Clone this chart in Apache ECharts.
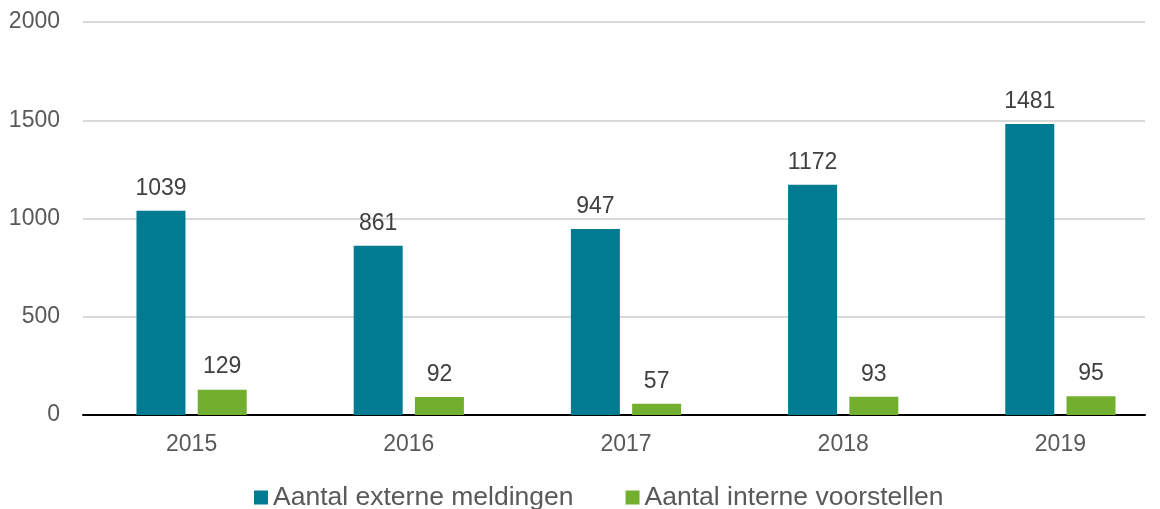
<!DOCTYPE html>
<html>
<head>
<meta charset="utf-8">
<script src="https://cdn.jsdelivr.net/npm/echarts@6/dist/echarts.min.js"></script>
<style>
  html, body { margin: 0; padding: 0; background: #fff; }
  #chart { width: 1160px; height: 509px; }
</style>
</head>
<body>
<div id="chart"></div>
<script>
const years = ['2015', '2016', '2017', '2018', '2019'];
const externeMeldingen = [1039, 861, 947, 1172, 1481];
const interneVoorstellen = [129, 92, 57, 93, 95];
const seriesNames = ['Aantal externe meldingen', 'Aantal interne voorstellen'];

const textColor = '#595959';
const font = 'Arial, "Liberation Sans", sans-serif';

const chart = echarts.init(document.getElementById('chart'));

const labelStyle = {
  show: true,
  position: 'top',
  distance: 11,
  color: '#404040',
  fontSize: 23,
  fontFamily: font
};

chart.setOption({
  animation: false,
  backgroundColor: '#fff',
  // grid 0: bars (category spacing as in the original), grid 1: gridlines + axis line
  grid: [
    { left: 83, width: 1086, top: 22, bottom: 94, outerBoundsMode: 'none' },
    { left: 83, right: 15, top: 22, bottom: 94, outerBoundsMode: 'none' }
  ],
  legend: {
    bottom: -7,
    left: 249,
    itemWidth: 14,
    itemHeight: 14,
    itemGap: 52,
    icon: 'rect',
    textStyle: { color: textColor, fontSize: 26.5, fontFamily: font },
    data: seriesNames
  },
  xAxis: [
    {
      type: 'category',
      gridIndex: 0,
      data: years,
      axisTick: { show: false },
      axisLine: { show: false },
      axisLabel: { color: textColor, fontSize: 23, fontFamily: font, margin: 18 }
    },
    {
      type: 'value',
      gridIndex: 1,
      min: 0,
      max: 1,
      axisTick: { show: false },
      axisLabel: { show: false },
      splitLine: { show: false },
      axisLine: { onZero: false, lineStyle: { color: '#000', width: 2 } }
    }
  ],
  yAxis: [
    {
      type: 'value',
      gridIndex: 0,
      min: 0,
      max: 2000,
      interval: 500,
      axisLine: { show: false },
      axisTick: { show: false },
      splitLine: { show: false },
      axisLabel: {
        color: textColor, fontSize: 23, fontFamily: font, margin: 23,
        formatter: v => String(v)
      }
    },
    {
      type: 'value',
      gridIndex: 1,
      min: 0,
      max: 2000,
      interval: 500,
      axisLine: { show: false },
      axisTick: { show: false },
      axisLabel: { show: false },
      splitLine: { lineStyle: { color: '#d9d9d9', width: 2 } }
    }
  ],
  series: [
    {
      name: seriesNames[0],
      type: 'bar',
      xAxisIndex: 0,
      yAxisIndex: 0,
      data: externeMeldingen,
      barWidth: 49,
      barGap: '25%',
      itemStyle: { color: '#007B91' },
      label: labelStyle,
      z: 3
    },
    {
      name: seriesNames[1],
      type: 'bar',
      xAxisIndex: 0,
      yAxisIndex: 0,
      data: interneVoorstellen,
      barWidth: 49,
      itemStyle: { color: '#72AF2F' },
      label: labelStyle,
      z: 3
    }
  ]
});
</script>
</body>
</html>
